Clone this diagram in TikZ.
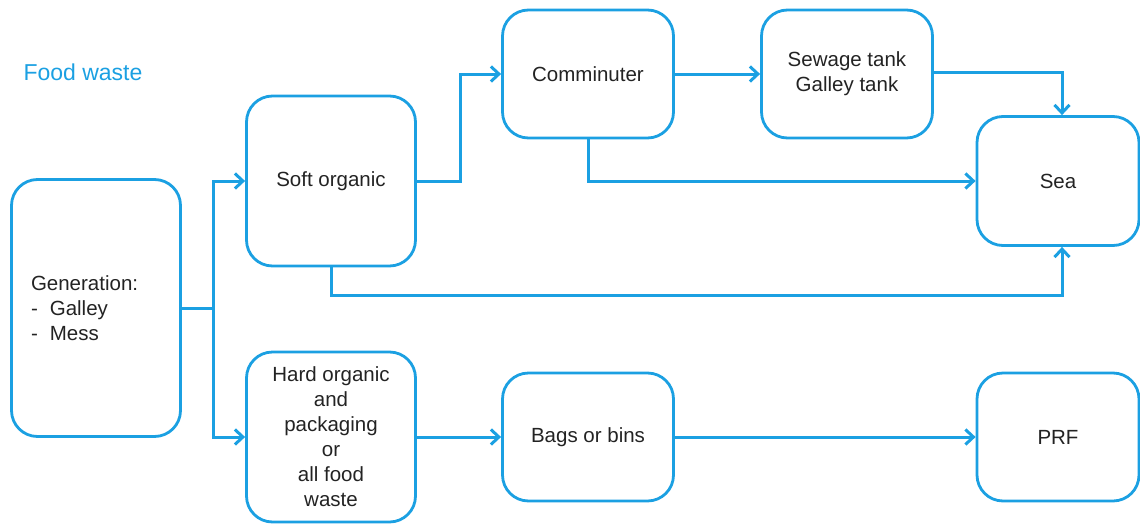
\documentclass[tikz,border=0pt]{standalone}
\usepackage{fontspec}
\setmainfont{Liberation Sans}
\usetikzlibrary{arrows.meta}
\definecolor{wasteblue}{RGB}{27,160,226}
\definecolor{inkgray}{RGB}{35,35,35}

\begin{document}
\begin{tikzpicture}[
            x=1pt, y=-1pt,
            >={Straight Barb[length=8pt, width=15pt]},
            box/.style={
                draw=wasteblue,
                line width=2.8pt,
                rounded corners=26pt,
                text=inkgray,
                font=\fontsize{20.5}{25}\selectfont,
                align=center,
                inner sep=0pt
            },
            flow/.style={draw=wasteblue, line width=3pt, ->},
            link/.style={draw=wasteblue, line width=3pt}
        ]
            \useasboundingbox (0,0) rectangle (1140,525);
            \node[text=wasteblue, font=\fontsize{23}{26}\selectfont] (title) at (83,72) {Food waste};

            \node[box, minimum width=169pt, minimum height=257pt, text width=130pt, align=left] (gen) at (96,308) {Generation:\\-\hspace{12pt}Galley\\-\hspace{12pt}Mess};
            \node[box, minimum width=169pt, minimum height=170pt] (soft) at (331,181) {Soft organic};
            \node[box, minimum width=169pt, minimum height=170pt] (hard) at (331,437) {Hard organic\\and\\packaging\\or\\all food\\waste};
            \node[box, minimum width=171pt, minimum height=128pt] (comm) at (588,74) {Comminuter};
            \node[box, minimum width=171pt, minimum height=128pt] (tank) at (847,74) {Sewage tank\\Galley tank};
            \node[box, minimum width=162pt, minimum height=129pt] (sea) at (1058,181) {Sea};
            \node[box, minimum width=171pt, minimum height=128pt] (bags) at (588,437) {Bags or bins};
            \node[box, minimum width=162pt, minimum height=128pt] (prf) at (1058,437) {PRF};

            \coordinate (split) at (213,308);
            \draw[link] (gen.east) -- (split);
            \draw[flow] (split) |- (soft.west);
            \draw[flow] (split) |- (hard.west);

            \draw[flow] (soft.east) -- ++(44,0) |- (comm.west);
            \draw[flow] (comm) -- (tank);
            \draw[flow] ([yshift=2pt]tank.east) -| ([xshift=4pt]sea.north);
            \draw[flow] (comm.south) |- (sea.west);
            \draw[flow] (soft.south) -- ++(0,28) -| ([xshift=4pt]sea.south);

            \draw[flow] (hard) -- (bags);
            \draw[flow] (bags) -- (prf);
        \end{tikzpicture}
\end{document}
